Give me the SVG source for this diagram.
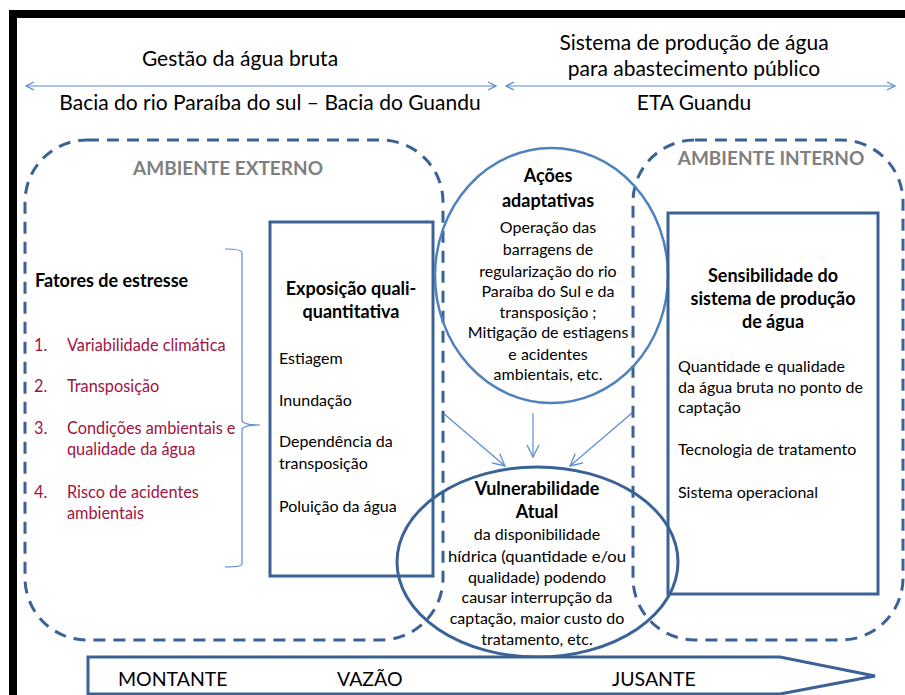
<svg xmlns="http://www.w3.org/2000/svg" width="905" height="695" viewBox="0 0 905 695">
<defs>
<style>
text{font-family:Lato,"Liberation Sans",sans-serif;fill:#000}
.h{font-size:21px}
.f{font-size:19.5px}
.b{font-size:16px}
.bb{font-size:18px;font-weight:bold}
.g{font-size:19px;font-weight:bold;fill:#7f7f7f}
.r{font-size:16.3px;fill:#a0143f}
.c{text-anchor:middle}
.dash{fill:none;stroke:#3b6296;stroke-width:3;stroke-dasharray:12 8}
.box{fill:none;stroke:#3b6296;stroke-width:3}
.thin{fill:none;stroke:#5b8bd0;stroke-width:1.2}
</style>
<marker id="oa" viewBox="0 0 10 10" refX="9" refY="5" markerWidth="10" markerHeight="10" markerUnits="userSpaceOnUse" orient="auto-start-reverse">
<path d="M1,1 L9,5 L1,9" fill="none" stroke="#5b8bd0" stroke-width="1.3"/>
</marker>
<marker id="oa2" viewBox="0 0 14 14" refX="13" refY="7" markerWidth="14" markerHeight="14" markerUnits="userSpaceOnUse" orient="auto">
<path d="M1,1 L13,7 L1,13" fill="none" stroke="#5b8bd0" stroke-width="1.3"/>
</marker>
</defs>
<rect width="905" height="695" fill="#fff"/>
<path d="M13,695 V14 H905" fill="none" stroke="#000" stroke-width="8"/>

<g id="headers">
<text class="h c" x="240" y="66">Gestão da água bruta</text>
<text class="h c" x="694" y="50">Sistema de produção de água</text>
<text class="h c" x="694" y="76">para abastecimento público</text>
<text class="h c" x="270" y="110">Bacia do rio Paraíba do sul – Bacia do Guandu</text>
<text class="h c" x="694" y="110">ETA Guandu</text>
</g>

<g id="connectors">
<line class="thin" x1="26" y1="86" x2="496" y2="86" marker-start="url(#oa)" marker-end="url(#oa)"/>
<line class="thin" x1="506" y1="86" x2="895" y2="86" marker-start="url(#oa)" marker-end="url(#oa)"/>
<line class="thin" x1="443" y1="413" x2="505" y2="466" marker-end="url(#oa2)"/>
<line class="thin" x1="533" y1="413" x2="533" y2="457" marker-end="url(#oa2)"/>
<line class="thin" x1="632" y1="413" x2="570" y2="466" marker-end="url(#oa2)"/>
</g>

<g id="ambiente-externo">
<rect class="dash" x="25" y="140" width="418" height="500" rx="62" ry="62"/>
<text class="g c" x="228" y="175">AMBIENTE EXTERNO</text>
</g>

<g id="ambiente-interno">
<rect class="dash" x="633" y="140" width="270" height="500" rx="62" ry="62"/>
<text class="g c" x="771" y="165">AMBIENTE INTERNO</text>
</g>

<g id="fatores">
<text class="bb" x="35" y="287">Fatores de estresse</text>
<text class="r" x="34" y="351">1.</text><text class="r" x="67" y="351">Variabilidade climática</text>
<text class="r" x="34" y="392">2.</text><text class="r" x="67" y="392">Transposição</text>
<text class="r" x="34" y="434">3.</text><text class="r" x="67" y="434">Condições ambientais e</text>
<text class="r" x="67" y="455">qualidade da água</text>
<text class="r" x="34" y="498">4.</text><text class="r" x="67" y="498">Risco de acidentes</text>
<text class="r" x="67" y="519">ambientais</text>
<path class="thin" d="M225,249 Q242,249 242,253 V420 Q242,425 260,425 Q242,425 242,430 V564 Q242,567 225,567"/>
</g>

<g id="exposicao">
<rect class="box" x="270" y="222" width="163" height="354"/>
<text class="bb c" x="351" y="295">Exposição quali-</text>
<text class="bb c" x="351" y="318">quantitativa</text>
<text class="b" x="279" y="364">Estiagem</text>
<text class="b" x="279" y="406">Inundação</text>
<text class="b" x="279" y="447">Dependência da</text>
<text class="b" x="279" y="469">transposição</text>
<text class="b" x="279" y="512">Poluição da água</text>
</g>

<g id="acoes">
<ellipse cx="551.5" cy="275.5" rx="116.5" ry="127.5" fill="none" stroke="#4f81bd" stroke-width="2.5"/>
<text class="bb c" x="548" y="182">Ações</text>
<text class="bb c" x="548" y="207">adaptativas</text>
<text class="b c" x="548" y="233">Operação das</text>
<text class="b c" x="548" y="255">barragens de</text>
<text class="b c" x="548" y="277">regularização do rio</text>
<text class="b c" x="548" y="297">Paraíba do Sul e da</text>
<text class="b c" x="548" y="318">transposição ;</text>
<text class="b c" x="548" y="338">Mitigação de estiagens</text>
<text class="b c" x="548" y="360">e acidentes</text>
<text class="b c" x="548" y="380">ambientais, etc.</text>
</g>

<g id="sensibilidade">
<rect class="box" x="668" y="213" width="210" height="381"/>
<text class="bb c" x="773" y="282">Sensibilidade  do</text>
<text class="bb c" x="773" y="305">sistema de produção</text>
<text class="bb c" x="773" y="328">de água</text>
<text class="b" x="678" y="372">Quantidade e qualidade</text>
<text class="b" x="678" y="393">da água bruta no ponto de</text>
<text class="b" x="678" y="413">captação</text>
<text class="b" x="678" y="455">Tecnologia de tratamento</text>
<text class="b" x="678" y="498">Sistema operacional</text>
</g>

<g id="vulnerabilidade">
<ellipse cx="537.5" cy="562" rx="140.5" ry="95" fill="none" stroke="#3b6296" stroke-width="3"/>
<text class="bb c" x="537" y="495">Vulnerabilidade</text>
<text class="bb c" x="537" y="518">Atual</text>
<text class="b c" x="537" y="540">da disponibilidade</text>
<text class="b c" x="537" y="562" textLength="178" lengthAdjust="spacingAndGlyphs">hídrica (quantidade e/ou</text>
<text class="b c" x="537" y="583">qualidade) podendo</text>
<text class="b c" x="537" y="603">causar interrupção da</text>
<text class="b c" x="537" y="624">captação, maior custo do</text>
<text class="b c" x="537" y="645">tratamento, etc.</text>
</g>

<g id="fluxo">
<path d="M88,657 H780 L875,676 L780,694 H88 Z" fill="#fff" stroke="#3b6296" stroke-width="3"/>
<text class="f" x="118" y="686">MONTANTE</text>
<text class="f" x="337" y="686">VAZÃO</text>
<text class="f" x="612" y="686">JUSANTE</text>
</g>
</svg>
